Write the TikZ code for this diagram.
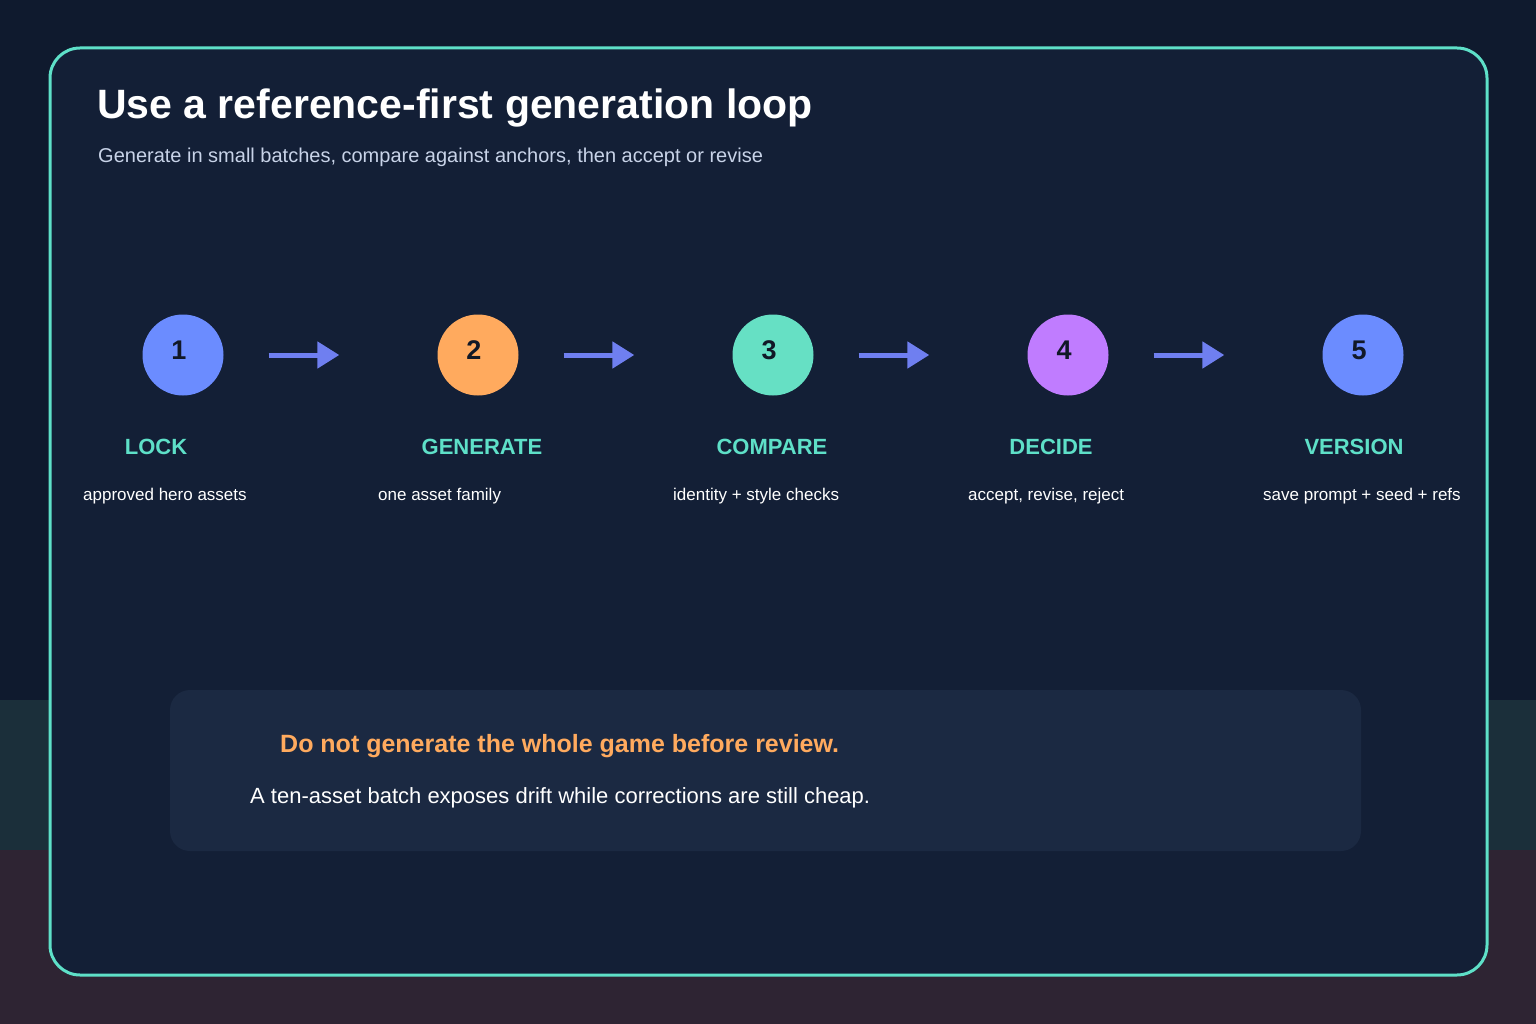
\documentclass[tikz,border=0pt]{standalone}
\usepackage{fontspec}
\setmainfont{Liberation Sans}
\usetikzlibrary{arrows.meta}
\definecolor{bgA}{HTML}{0F1A2E}
\definecolor{bgB}{HTML}{1B2F3A}
\definecolor{bgC}{HTML}{2E2433}
\definecolor{card}{HTML}{131F36}
\definecolor{teal}{HTML}{5EE0C8}
\definecolor{sub}{HTML}{C8D3E8}
\definecolor{arr}{HTML}{6F7FF0}
\definecolor{cA}{HTML}{6B8CFF}
\definecolor{cB}{HTML}{FFAA5E}
\definecolor{cC}{HTML}{66E0C4}
\definecolor{cD}{HTML}{C07CFF}
\definecolor{box}{HTML}{1B2942}
\definecolor{dark}{HTML}{111827}
\begin{document}
\begin{tikzpicture}[x=1pt,y=-1pt,
 stepnode/.style={circle,minimum size=81pt,inner sep=0pt},
 lab/.style={text=teal,font=\fontsize{22}{26}\selectfont\bfseries},
 desc/.style={text=white,anchor=west,inner sep=0pt,font=\fontsize{17}{20}\selectfont},
 conn/.style={arr,line width=5pt,-{Triangle[length=22pt,width=26pt]},shorten <=45pt,shorten >=98pt}]
\useasboundingbox (0,0) rectangle (1536,1024);
\fill[bgA] (0,0) rectangle (1536,700);
\fill[bgB] (0,700) rectangle (1536,850);
\fill[bgC] (0,850) rectangle (1536,1024);
\draw[teal,line width=3pt,fill=card,rounded corners=30pt] (50,48) rectangle (1487,975);
\node[anchor=west,inner sep=0pt,text=white,font=\fontsize{41}{46}\selectfont\bfseries] (title) at (97,108) {Use a reference-first generation loop};
\node[anchor=west,inner sep=0pt,text=sub,font=\fontsize{20}{24}\selectfont] (subt) at (98,157) {Generate in small batches, compare against anchors, then accept or revise};
\foreach \i/\x/\c in {1/183/cA,2/478/cB,3/773/cC,4/1068/cD,5/1363/cA}{
  \node[stepnode,fill=\c] (c\i) at (\x,355) {};
  \node[font=\fontsize{27}{30}\selectfont\bfseries,text=dark] (n\i) at (\x-4,350) {\i};
}
\foreach \a/\b in {1/2,2/3,3/4,4/5}{\draw[conn] (c\a) -- (c\b);}
\node[lab] (l1) at (156,447) {LOCK};
\node[lab] (l2) at (482,447) {GENERATE};
\node[lab] (l3) at (772,447) {COMPARE};
\node[lab] (l4) at (1051,447) {DECIDE};
\node[lab] (l5) at (1354,447) {VERSION};
\node[desc] (d1) at (83,496) {approved hero assets};
\node[desc] (d2) at (378,496) {one asset family};
\node[desc] (d3) at (673,496) {identity + style checks};
\node[desc] (d4) at (968,496) {accept, revise, reject};
\begin{scope}
\clip (0,0) rectangle (1486,1024);
\node[desc] (d5) at (1263,496) {save prompt + seed + refs};
\end{scope}
\fill[box,rounded corners=20pt] (170,690) rectangle (1361,851);
\node[anchor=west,inner sep=0pt,text=cB,font=\fontsize{25}{30}\selectfont\bfseries] (warn) at (280,746) {Do not generate the whole game before review.};
\node[anchor=west,inner sep=0pt,text=white,font=\fontsize{22}{26}\selectfont] (note) at (250,798) {A ten-asset batch exposes drift while corrections are still cheap.};
\end{tikzpicture}
\end{document}
